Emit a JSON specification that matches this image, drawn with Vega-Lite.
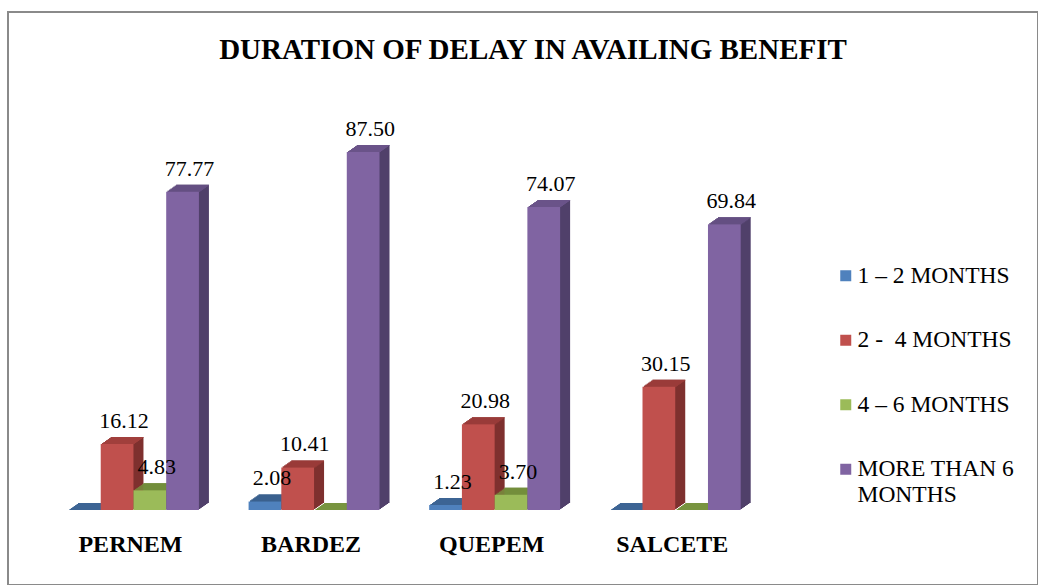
{
  "$schema": "https://vega.github.io/schema/vega-lite/v6.json",
  "autosize": {"type": "none"},
  "padding": {"left": 8, "top": 12, "right": 0, "bottom": 0},
  "width": 1030,
  "height": 573,
  "background": "white",
  "title": {
    "text": "DURATION OF DELAY IN AVAILING BENEFIT",
    "font": "Liberation Serif",
    "fontSize": 29,
    "fontWeight": "bold",
    "color": "black",
    "anchor": "middle",
    "baseline": "middle",
    "offset": 0,
    "dx": 10,
    "dy": 67
  },
  "data": {
    "values": [
      {"region": "PERNEM", "duration": "1 – 2 MONTHS", "value": 0},
      {"region": "PERNEM", "duration": "2 -  4 MONTHS", "value": 16.12},
      {"region": "PERNEM", "duration": "4 – 6 MONTHS", "value": 4.83},
      {"region": "PERNEM", "duration": "MORE THAN 6 MONTHS", "value": 77.77},
      {"region": "BARDEZ", "duration": "1 – 2 MONTHS", "value": 2.08},
      {"region": "BARDEZ", "duration": "2 -  4 MONTHS", "value": 10.41},
      {"region": "BARDEZ", "duration": "4 – 6 MONTHS", "value": 0},
      {"region": "BARDEZ", "duration": "MORE THAN 6 MONTHS", "value": 87.50},
      {"region": "QUEPEM", "duration": "1 – 2 MONTHS", "value": 1.23},
      {"region": "QUEPEM", "duration": "2 -  4 MONTHS", "value": 20.98},
      {"region": "QUEPEM", "duration": "4 – 6 MONTHS", "value": 3.70},
      {"region": "QUEPEM", "duration": "MORE THAN 6 MONTHS", "value": 74.07},
      {"region": "SALCETE", "duration": "1 – 2 MONTHS", "value": 0},
      {"region": "SALCETE", "duration": "2 -  4 MONTHS", "value": 30.15},
      {"region": "SALCETE", "duration": "4 – 6 MONTHS", "value": 0},
      {"region": "SALCETE", "duration": "MORE THAN 6 MONTHS", "value": 69.84}
    ]
  },
  "encoding": {
    "x": {
      "field": "region", "type": "nominal",
      "sort": ["PERNEM", "BARDEZ", "QUEPEM", "SALCETE"],
      "scale": {"range": [60, 732.7], "paddingInner": 0.275, "paddingOuter": 0},
      "axis": {
        "title": null, "orient": "bottom", "offset": -53, "domain": false, "ticks": false,
        "labelAngle": 0, "labelPadding": 0, "labelBaseline": "top", "labelOffset": -3,
        "labelFont": "Liberation Serif", "labelFontSize": 24, "labelFontWeight": "bold", "labelColor": "black",
        "grid": false
      }
    },
    "y": {
      "field": "value", "type": "quantitative",
      "scale": {"domain": [-18.33, 121.72], "nice": false, "zero": false},
      "axis": null
    }
  },
  "layer": [
    {"mark": {"type": "bar", "yOffset": -1}, "encoding": {"xOffset": {"field": "duration", "type": "nominal", "scale": {"domain": ["1 – 2 MONTHS", "2 -  4 MONTHS", "4 – 6 MONTHS", "MORE THAN 6 MONTHS"], "range": [1.43, 132.36]}}, "color": {"field": "duration", "type": "nominal", "scale": {"domain": ["1 – 2 MONTHS", "2 -  4 MONTHS", "4 – 6 MONTHS", "MORE THAN 6 MONTHS"], "range": ["#34567F", "#7E302E", "#5E7530", "#50406A"]}, "legend": null}}},
    {"mark": {"type": "bar", "yOffset": -2}, "encoding": {"xOffset": {"field": "duration", "type": "nominal", "scale": {"domain": ["1 – 2 MONTHS", "2 -  4 MONTHS", "4 – 6 MONTHS", "MORE THAN 6 MONTHS"], "range": [2.86, 133.79]}}, "color": {"field": "duration", "type": "nominal", "scale": {"domain": ["1 – 2 MONTHS", "2 -  4 MONTHS", "4 – 6 MONTHS", "MORE THAN 6 MONTHS"], "range": ["#34567F", "#7E302E", "#5E7530", "#50406A"]}, "legend": null}}},
    {"mark": {"type": "bar", "yOffset": -3}, "encoding": {"xOffset": {"field": "duration", "type": "nominal", "scale": {"domain": ["1 – 2 MONTHS", "2 -  4 MONTHS", "4 – 6 MONTHS", "MORE THAN 6 MONTHS"], "range": [4.29, 135.22]}}, "color": {"field": "duration", "type": "nominal", "scale": {"domain": ["1 – 2 MONTHS", "2 -  4 MONTHS", "4 – 6 MONTHS", "MORE THAN 6 MONTHS"], "range": ["#34567F", "#7E302E", "#5E7530", "#50406A"]}, "legend": null}}},
    {"mark": {"type": "bar", "yOffset": -4}, "encoding": {"xOffset": {"field": "duration", "type": "nominal", "scale": {"domain": ["1 – 2 MONTHS", "2 -  4 MONTHS", "4 – 6 MONTHS", "MORE THAN 6 MONTHS"], "range": [5.71, 136.64]}}, "color": {"field": "duration", "type": "nominal", "scale": {"domain": ["1 – 2 MONTHS", "2 -  4 MONTHS", "4 – 6 MONTHS", "MORE THAN 6 MONTHS"], "range": ["#34567F", "#7E302E", "#5E7530", "#50406A"]}, "legend": null}}},
    {"mark": {"type": "bar", "yOffset": -5}, "encoding": {"xOffset": {"field": "duration", "type": "nominal", "scale": {"domain": ["1 – 2 MONTHS", "2 -  4 MONTHS", "4 – 6 MONTHS", "MORE THAN 6 MONTHS"], "range": [7.14, 138.07]}}, "color": {"field": "duration", "type": "nominal", "scale": {"domain": ["1 – 2 MONTHS", "2 -  4 MONTHS", "4 – 6 MONTHS", "MORE THAN 6 MONTHS"], "range": ["#34567F", "#7E302E", "#5E7530", "#50406A"]}, "legend": null}}},
    {"mark": {"type": "bar", "yOffset": -6}, "encoding": {"xOffset": {"field": "duration", "type": "nominal", "scale": {"domain": ["1 – 2 MONTHS", "2 -  4 MONTHS", "4 – 6 MONTHS", "MORE THAN 6 MONTHS"], "range": [8.57, 139.5]}}, "color": {"field": "duration", "type": "nominal", "scale": {"domain": ["1 – 2 MONTHS", "2 -  4 MONTHS", "4 – 6 MONTHS", "MORE THAN 6 MONTHS"], "range": ["#34567F", "#7E302E", "#5E7530", "#50406A"]}, "legend": null}}},
    {"mark": {"type": "bar", "yOffset": -7}, "encoding": {"xOffset": {"field": "duration", "type": "nominal", "scale": {"domain": ["1 – 2 MONTHS", "2 -  4 MONTHS", "4 – 6 MONTHS", "MORE THAN 6 MONTHS"], "range": [10, 140.93]}}, "color": {"field": "duration", "type": "nominal", "scale": {"domain": ["1 – 2 MONTHS", "2 -  4 MONTHS", "4 – 6 MONTHS", "MORE THAN 6 MONTHS"], "range": ["#34567F", "#7E302E", "#5E7530", "#50406A"]}, "legend": null}}},

    {"mark": {"type": "bar", "yOffset": -1, "y2Offset": 0}, "encoding": {"y2": {"field": "value"}, "xOffset": {"field": "duration", "type": "nominal", "scale": {"domain": ["1 – 2 MONTHS", "2 -  4 MONTHS", "4 – 6 MONTHS", "MORE THAN 6 MONTHS"], "range": [1.43, 132.36]}}, "color": {"field": "duration", "type": "nominal", "scale": {"domain": ["1 – 2 MONTHS", "2 -  4 MONTHS", "4 – 6 MONTHS", "MORE THAN 6 MONTHS"], "range": ["#3C6494", "#A13F3C", "#78943F", "#6A5389"]}, "legend": null}}},
    {"mark": {"type": "bar", "yOffset": -2, "y2Offset": -1}, "encoding": {"y2": {"field": "value"}, "xOffset": {"field": "duration", "type": "nominal", "scale": {"domain": ["1 – 2 MONTHS", "2 -  4 MONTHS", "4 – 6 MONTHS", "MORE THAN 6 MONTHS"], "range": [2.86, 133.79]}}, "color": {"field": "duration", "type": "nominal", "scale": {"domain": ["1 – 2 MONTHS", "2 -  4 MONTHS", "4 – 6 MONTHS", "MORE THAN 6 MONTHS"], "range": ["#3C6494", "#A13F3C", "#78943F", "#6A5389"]}, "legend": null}}},
    {"mark": {"type": "bar", "yOffset": -3, "y2Offset": -2}, "encoding": {"y2": {"field": "value"}, "xOffset": {"field": "duration", "type": "nominal", "scale": {"domain": ["1 – 2 MONTHS", "2 -  4 MONTHS", "4 – 6 MONTHS", "MORE THAN 6 MONTHS"], "range": [4.29, 135.22]}}, "color": {"field": "duration", "type": "nominal", "scale": {"domain": ["1 – 2 MONTHS", "2 -  4 MONTHS", "4 – 6 MONTHS", "MORE THAN 6 MONTHS"], "range": ["#3C6494", "#A13F3C", "#78943F", "#6A5389"]}, "legend": null}}},
    {"mark": {"type": "bar", "yOffset": -4, "y2Offset": -3}, "encoding": {"y2": {"field": "value"}, "xOffset": {"field": "duration", "type": "nominal", "scale": {"domain": ["1 – 2 MONTHS", "2 -  4 MONTHS", "4 – 6 MONTHS", "MORE THAN 6 MONTHS"], "range": [5.71, 136.64]}}, "color": {"field": "duration", "type": "nominal", "scale": {"domain": ["1 – 2 MONTHS", "2 -  4 MONTHS", "4 – 6 MONTHS", "MORE THAN 6 MONTHS"], "range": ["#3C6494", "#A13F3C", "#78943F", "#6A5389"]}, "legend": null}}},
    {"mark": {"type": "bar", "yOffset": -5, "y2Offset": -4}, "encoding": {"y2": {"field": "value"}, "xOffset": {"field": "duration", "type": "nominal", "scale": {"domain": ["1 – 2 MONTHS", "2 -  4 MONTHS", "4 – 6 MONTHS", "MORE THAN 6 MONTHS"], "range": [7.14, 138.07]}}, "color": {"field": "duration", "type": "nominal", "scale": {"domain": ["1 – 2 MONTHS", "2 -  4 MONTHS", "4 – 6 MONTHS", "MORE THAN 6 MONTHS"], "range": ["#3C6494", "#A13F3C", "#78943F", "#6A5389"]}, "legend": null}}},
    {"mark": {"type": "bar", "yOffset": -6, "y2Offset": -5}, "encoding": {"y2": {"field": "value"}, "xOffset": {"field": "duration", "type": "nominal", "scale": {"domain": ["1 – 2 MONTHS", "2 -  4 MONTHS", "4 – 6 MONTHS", "MORE THAN 6 MONTHS"], "range": [8.57, 139.5]}}, "color": {"field": "duration", "type": "nominal", "scale": {"domain": ["1 – 2 MONTHS", "2 -  4 MONTHS", "4 – 6 MONTHS", "MORE THAN 6 MONTHS"], "range": ["#3C6494", "#A13F3C", "#78943F", "#6A5389"]}, "legend": null}}},
    {"mark": {"type": "bar", "yOffset": -7, "y2Offset": -6}, "encoding": {"y2": {"field": "value"}, "xOffset": {"field": "duration", "type": "nominal", "scale": {"domain": ["1 – 2 MONTHS", "2 -  4 MONTHS", "4 – 6 MONTHS", "MORE THAN 6 MONTHS"], "range": [10, 140.93]}}, "color": {"field": "duration", "type": "nominal", "scale": {"domain": ["1 – 2 MONTHS", "2 -  4 MONTHS", "4 – 6 MONTHS", "MORE THAN 6 MONTHS"], "range": ["#3C6494", "#A13F3C", "#78943F", "#6A5389"]}, "legend": null}}},

    {
      "mark": {"type": "bar"},
      "encoding": {
        "xOffset": {"field": "duration", "type": "nominal", "scale": {"domain": ["1 – 2 MONTHS", "2 -  4 MONTHS", "4 – 6 MONTHS", "MORE THAN 6 MONTHS"], "range": [0, 130.93]}},
        "color": {
          "field": "duration", "type": "nominal",
          "scale": {"domain": ["1 – 2 MONTHS", "2 -  4 MONTHS", "4 – 6 MONTHS", "MORE THAN 6 MONTHS"], "range": ["#4F81BD", "#C0504D", "#9BBB59", "#8064A2"]},
          "legend": {
            "title": null, "orient": "none", "legendX": 826, "legendY": 252, "padding": 0,
            "symbolType": "square", "symbolSize": 121, "symbolStrokeWidth": 0,
            "labelFont": "Liberation Serif", "labelFontSize": 23.5, "labelColor": "black",
            "labelOffset": 0, "labelLimit": 300, "rowPadding": 39.5, "labelBaseline": "middle",
            "labelExpr": "datum.label == 'MORE THAN 6 MONTHS' ? ['MORE THAN 6', 'MONTHS'] : replace(datum.label, '  ', ' \u00a0')"
          }
        }
      }
    },
    {
      "transform": [{"filter": "datum.value > 0"}],
      "mark": {"type": "text", "baseline": "middle", "dy": -23, "dx": 7, "font": "Liberation Serif", "fontSize": 22, "color": "black"},
      "encoding": {
        "xOffset": {"field": "duration", "type": "nominal", "scale": {"domain": ["1 – 2 MONTHS", "2 -  4 MONTHS", "4 – 6 MONTHS", "MORE THAN 6 MONTHS"], "range": [0, 130.93]}},
        "text": {"field": "value", "type": "quantitative", "format": ".2f"}
      }
    }
  ],
  "resolve": {"scale": {"xOffset": "independent", "color": "independent"}},
  "config": {
    "view": {"stroke": "#8a8a8a", "strokeWidth": 2},
    "bar": {"stroke": null}
  }
}
